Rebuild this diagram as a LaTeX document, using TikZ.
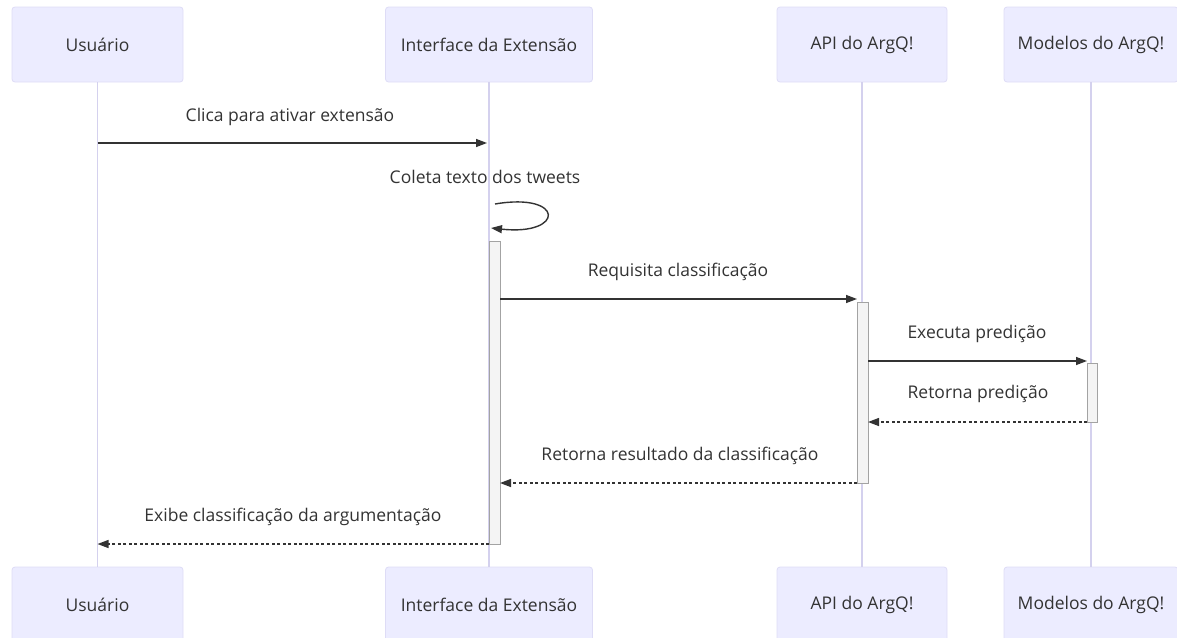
\documentclass[tikz,border=0pt]{standalone}
\usepackage{fontspec}
\setmainfont{Open Sans}
\usetikzlibrary{arrows.meta}
\definecolor{actfill}{HTML}{ECECFF}
\definecolor{actdraw}{HTML}{DEDCF6}
\definecolor{lifec}{HTML}{D4D1EE}
\definecolor{txt}{HTML}{333333}
\definecolor{barfill}{HTML}{F4F4F4}
\definecolor{bardraw}{HTML}{A3A3A3}
\begin{document}
\begin{tikzpicture}[x=1pt,y=-1pt,
  actor/.style={draw=actdraw, fill=actfill, rounded corners=3pt, minimum height=75pt, text=txt, font=\fontsize{17.5}{20}\selectfont, inner sep=0pt, line width=0.8pt},
  life/.style={draw=lifec, line width=1.3pt},
  bar/.style={draw=bardraw, fill=barfill, line width=1.2pt, inner sep=0pt, anchor=north west},
  msg/.style={draw=txt, line width=1.4pt, -{Triangle[length=11pt,width=8pt]}},
  ret/.style={msg, dash pattern=on 3pt off 2.5pt},
  lbl/.style={text=txt, font=\fontsize{17.5}{20}\selectfont, inner sep=0pt}]
\useasboundingbox (0,0) rectangle (1177,637);
\clip (0,0) rectangle (1177,637);
% actors top
\node[actor, minimum width=171pt] (uT) at (97.5,44.5) {Usuário};
\node[actor, minimum width=207pt] (iT) at (489,44.5) {Interface da Extensão};
\node[actor, minimum width=170pt] (aT) at (862,44.5) {API do ArgQ!};
\node[actor, minimum width=174pt] (mT) at (1091,44.5) {Modelos do ArgQ!};
% actors bottom
\node[actor, minimum width=171pt] (uB) at (97.5,604.5) {Usuário};
\node[actor, minimum width=207pt] (iB) at (489,604.5) {Interface da Extensão};
\node[actor, minimum width=170pt] (aB) at (862,604.5) {API do ArgQ!};
\node[actor, minimum width=174pt] (mB) at (1091,604.5) {Modelos do ArgQ!};
% lifelines
\draw[life] (uT.south) -- (uB.north);
\draw[life] (iT.south) -- (iB.north);
\draw[life] (aT.south) -- (aB.north);
\draw[life] (mT.south) -- (mB.north);
% activation bars
\node[bar, minimum width=11pt, minimum height=303pt] (barI) at (489,241) {};
\node[bar, minimum width=11pt, minimum height=181pt] (barA) at (857,302) {};
\node[bar, minimum width=10pt, minimum height=59pt] (barM) at (1087,363) {};
% coordinates
\coordinate (u1) at (97.5,143);
\coordinate (i1) at (487,143);
\coordinate (s1) at (495,204);
\coordinate (s2) at (491,228);
\coordinate (i2) at (500,299);
\coordinate (a2) at (857,299);
\coordinate (a3) at (868,361);
\coordinate (m3) at (1087,361);
\coordinate (m4) at (1087,422);
\coordinate (a4) at (868,422);
\coordinate (a5) at (857,483);
\coordinate (i5) at (500,483);
\coordinate (i6) at (489,544);
\coordinate (u6) at (97.5,544);
% messages
\draw[msg] (u1) -- (i1);
\node[lbl] (l1) at (290,117) {Clica para ativar extensão};
\draw[msg] (s1) .. controls (565,192) and (565,236) .. (s2);
\node[lbl] (l2) at (485,177) {Coleta texto dos tweets};
\draw[msg] (i2) -- (a2);
\node[lbl] (l3) at (678,272) {Requisita classificação};
\draw[msg] (a3) -- (m3);
\node[lbl] (l4) at (977,334) {Executa predição};
\draw[ret] (m4) -- (a4);
\node[lbl] (l5) at (978,394) {Retorna predição};
\draw[ret] (a5) -- (i5);
\node[lbl] (l6) at (680,456) {Retorna resultado da classificação};
\draw[ret] (i6) -- (u6);
\node[lbl] (l7) at (293,517) {Exibe classificação da argumentação};
\end{tikzpicture}
\end{document}
